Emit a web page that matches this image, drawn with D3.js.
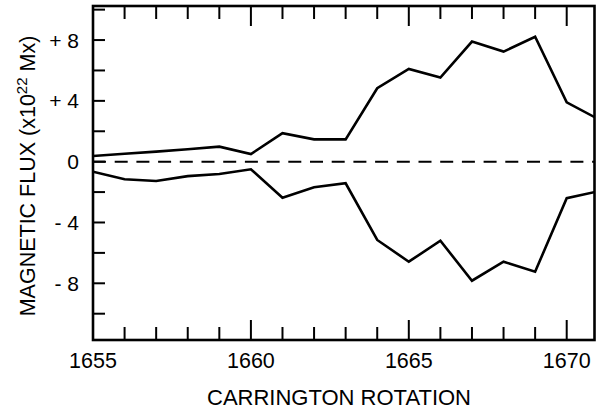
<!DOCTYPE html>
<html>
<head>
<meta charset="utf-8">
<script src="https://cdn.jsdelivr.net/npm/d3@7"></script>
<style>
  html, body { margin: 0; padding: 0; background: #fff; }
  svg { display: block; }
  text { font-family: "Liberation Sans", Arial, sans-serif; fill: #000; }
</style>
</head>
<body>
<svg id="chart" width="597" height="409"></svg>
<script>
// Data
const rotations = [1655,1656,1657,1658,1659,1660,1661,1662,1663,1664,1665,1666,1667,1668,1669,1670,1671];
const positiveFlux = [0.37,0.52,0.66,0.82,0.99,0.5,1.87,1.47,1.47,4.83,6.1,5.53,7.9,7.24,8.22,3.9,2.8];
const negativeFlux = [-0.66,-1.16,-1.27,-0.95,-0.81,-0.5,-2.37,-1.68,-1.42,-5.15,-6.58,-5.2,-7.83,-6.58,-7.24,-2.4,-1.95];
const yTickValues = [8,4,0,-4,-8];
const yTickLabels = ["+ 8","+ 4","0","- 4","- 8"];
const yMinorTicks = [10,6,2,-2,-6,-10];
const xMajorTicks = [1655,1660,1665,1670];
const xMinorTicks = d3.range(1656,1671).filter(d => d % 5 !== 0);

(function () {
const svg = d3.select("#chart");
const pL = 93, pR = 594.5, pT = 6, pB = 340;

const x = d3.scaleLinear().domain([1655, 1670.88]).range([pL, pR]);
const y = d3.scaleLinear().domain([-11.73, 10.24]).range([pB, pT]);

svg.append("defs").append("clipPath").attr("id","clip")
  .append("rect").attr("x", pL).attr("y", pT).attr("width", pR-pL).attr("height", pB-pT);

// zero dashed line
svg.append("line")
  .attr("x1", pL).attr("x2", pR)
  .attr("y1", y(0)).attr("y2", y(0))
  .attr("stroke", "#000").attr("stroke-width", 2)
  .attr("stroke-dasharray", "13,8.7");

const line = d3.line().x((d,i) => x(rotations[i])).y(d => y(d));
const g = svg.append("g").attr("clip-path","url(#clip)");
[positiveFlux, negativeFlux].forEach(s => {
  g.append("path").datum(s).attr("d", line)
    .attr("fill","none").attr("stroke","#000").attr("stroke-width",2.6)
    .attr("stroke-linejoin","miter");
});

// ticks
const tickG = svg.append("g").attr("stroke","#000").attr("stroke-width",2);
yTickValues.concat(yMinorTicks).forEach(v => {
  tickG.append("line").attr("x1", pL).attr("x2", pL+12).attr("y1", y(v)).attr("y2", y(v));
});
xMajorTicks.forEach(v => {
  tickG.append("line").attr("x1", x(v)).attr("x2", x(v)).attr("y1", pB).attr("y2", pB-20);
  tickG.append("line").attr("x1", x(v)).attr("x2", x(v)).attr("y1", pT).attr("y2", pT+20);
});
xMinorTicks.forEach(v => {
  tickG.append("line").attr("x1", x(v)).attr("x2", x(v)).attr("y1", pB).attr("y2", pB-13);
  tickG.append("line").attr("x1", x(v)).attr("x2", x(v)).attr("y1", pT).attr("y2", pT+13);
});

// frame
svg.append("rect").attr("x", pL).attr("y", pT).attr("width", pR-pL).attr("height", pB-pT)
  .attr("fill","none").attr("stroke","#000").attr("stroke-width",2.6);

// tick labels
yTickValues.forEach((v,i) => {
  svg.append("text").attr("x", 79).attr("y", y(v)).attr("dy","0.36em")
    .attr("text-anchor","end").attr("font-size", 21).text(yTickLabels[i]);
});
xMajorTicks.forEach(v => {
  svg.append("text").attr("x", x(v)).attr("y", 368)
    .attr("text-anchor","middle").attr("font-size", 21.5).text(v);
});

// axis titles
svg.append("text").attr("x", 339).attr("y", 405)
  .attr("text-anchor","middle").attr("font-size", 22).text("CARRINGTON ROTATION");

const yt = svg.append("text").attr("transform","translate(35,176) rotate(-90)")
  .attr("text-anchor","middle").attr("font-size", 21.5);
yt.append("tspan").text("MAGNETIC FLUX (x10");
yt.append("tspan").attr("font-size", 15).attr("dy", -8).text("22");
yt.append("tspan").attr("dy", 8).text(" Mx)");
})();
</script>
</body>
</html>
